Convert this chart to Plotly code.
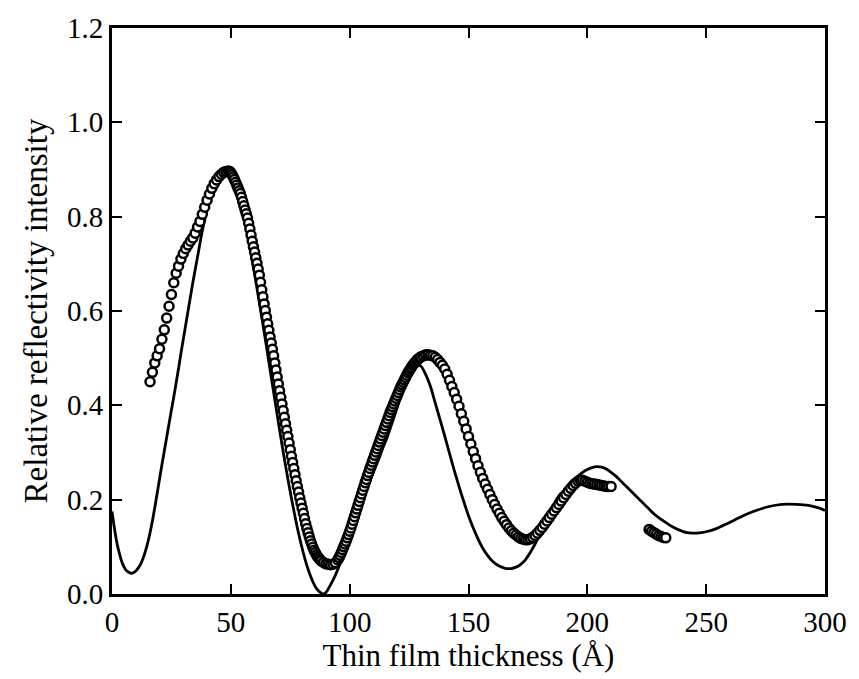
import plotly.graph_objects as go

# ---- calculated (solid line) ----
calc_x = [0, 1, 2, 3, 4, 5, 6, 7, 8, 9, 10, 11, 12, 13, 14, 15, 16, 17, 18, 19,
          20, 21, 22, 23, 24, 25, 26, 27, 28, 29, 30, 32, 34, 36, 38, 40, 42, 44,
          46, 48, 50, 52, 54, 56, 58, 60, 62, 64, 66, 68, 70, 72, 74, 76, 78, 80,
          82, 84, 86, 88, 89, 90, 92, 94, 96, 98, 100, 102, 104, 106, 108, 110,
          112, 114, 116, 118, 120, 122, 124, 126, 128, 130, 132, 134, 136, 138,
          140, 142, 144, 146, 148, 150, 152, 154, 156, 158, 160, 162, 164, 166,
          168, 170, 172, 174, 176, 178, 180, 182, 184, 186, 188, 190, 192, 194,
          196, 198, 200, 202, 204, 206, 208, 210, 212, 214, 216, 218, 220, 222,
          224, 226, 228, 230, 232, 234, 236, 238, 240, 242, 244, 246, 248, 250,
          254, 257, 262, 266, 271, 276, 282, 288, 293, 297, 300]
calc_y = [0.175, 0.14, 0.11, 0.088, 0.07, 0.058, 0.05, 0.046, 0.044, 0.045, 0.049,
          0.055, 0.063, 0.075, 0.09, 0.108, 0.13, 0.155, 0.183, 0.213, 0.244, 0.274,
          0.303, 0.332, 0.361, 0.39, 0.418, 0.448, 0.478, 0.51, 0.54, 0.6, 0.66,
          0.715, 0.77, 0.815, 0.85, 0.872, 0.884, 0.888, 0.88, 0.86, 0.83, 0.79,
          0.735, 0.678, 0.618, 0.556, 0.492, 0.428, 0.364, 0.302, 0.244, 0.19,
          0.14, 0.097, 0.06, 0.032, 0.012, 0.002, 0.0, 0.003, 0.02, 0.04, 0.065,
          0.095, 0.125, 0.155, 0.18, 0.205, 0.232, 0.258, 0.283, 0.31, 0.335,
          0.365, 0.395, 0.43, 0.46, 0.478, 0.487, 0.483, 0.465, 0.44, 0.405, 0.37,
          0.335, 0.298, 0.262, 0.228, 0.196, 0.166, 0.14, 0.117, 0.097, 0.082,
          0.07, 0.062, 0.057, 0.054, 0.054, 0.057, 0.063, 0.073, 0.088, 0.106,
          0.127, 0.148, 0.17, 0.19, 0.208, 0.218, 0.228, 0.24, 0.25, 0.258, 0.264,
          0.268, 0.27, 0.269, 0.265, 0.258, 0.25, 0.24, 0.23, 0.22, 0.21, 0.2,
          0.19, 0.18, 0.17, 0.162, 0.155, 0.148, 0.142, 0.137, 0.133, 0.13, 0.129,
          0.129, 0.13, 0.132, 0.138, 0.145, 0.157, 0.167, 0.177, 0.185, 0.19,
          0.19, 0.188, 0.183, 0.177]

# ---- measured (open circles) ----
meas_x = [16, 17, 18, 19, 20, 21, 22, 23, 24, 25, 26, 27, 28, 29, 30, 31, 32, 33,
          34, 35, 36, 37, 38, 39, 40, 41, 42, 43, 44, 45, 46, 47, 48, 49,
          49.5, 50, 50.5, 51, 51.5, 52, 52.5, 53, 53.5, 54, 54.5, 55, 55.5, 56,
          56.5, 57, 57.5, 58, 58.5, 59, 59.5, 60, 60.5, 61, 61.5, 62, 62.5, 63,
          63.5, 64, 64.5, 65, 65.5, 66, 66.5, 67, 67.5, 68, 68.5, 69, 69.5, 70,
          70.5, 71, 71.5, 72, 72.5, 73, 73.5, 74, 74.5, 75, 75.5, 76, 76.5, 77,
          77.5, 78, 78.5, 79, 79.5, 80, 80.5, 81, 81.5, 82, 82.5, 83, 83.5, 84,
          84.5, 85, 85.5, 86, 86.5, 87, 87.5, 88, 89, 90, 91, 92, 93, 94,
          95, 95.5, 96, 96.5, 97, 97.5, 98, 98.5, 99, 99.5, 100, 100.5, 101,
          101.5, 102, 102.5, 103, 103.5, 104, 104.5, 105, 105.5, 106, 106.5, 107,
          107.5, 108, 108.5, 109, 109.5, 110, 110.5, 111, 111.5, 112, 112.5, 113,
          113.5, 114, 114.5, 115, 115.5, 116, 116.5, 117, 117.5, 118, 118.5, 119,
          119.5, 120, 120.5, 121, 121.5, 122, 122.5, 123, 123.5, 124, 124.5, 125,
          125.5, 126, 126.5, 127, 127.5, 128, 128.5, 129, 129.5, 130, 131, 132,
          133, 134, 135, 136, 137, 138, 139, 140, 141, 142, 143, 144, 145, 146,
          147, 148, 149, 150, 151, 152, 153, 154, 155, 156, 157, 158, 159, 160,
          161, 162, 163, 164, 165, 166, 167, 168, 169, 170, 171, 172, 173, 174,
          175, 176, 177, 178, 179, 180, 181, 182, 183, 184, 185, 186, 187, 188,
          189, 190, 191, 192, 193, 194, 195, 196, 197, 198, 199, 200, 201, 202,
          203, 204, 205, 206, 207, 208, 209, 210,
          226, 227, 228, 229, 230, 231, 232, 233]
meas_y = [0.45, 0.47, 0.49, 0.505, 0.52, 0.54, 0.56, 0.585, 0.61, 0.635, 0.66,
          0.68, 0.695, 0.71, 0.722, 0.732, 0.74, 0.748, 0.755, 0.765, 0.778, 0.79,
          0.805, 0.82, 0.835, 0.848, 0.86, 0.87, 0.878, 0.885, 0.89, 0.894, 0.896,
          0.897,
          0.896, 0.893, 0.889, 0.884, 0.879, 0.873, 0.867, 0.861, 0.855, 0.849,
          0.841, 0.832, 0.823, 0.814, 0.806, 0.797, 0.786, 0.774, 0.761, 0.748,
          0.736, 0.725, 0.713, 0.701, 0.689, 0.676, 0.661, 0.645, 0.63, 0.615,
          0.601, 0.587, 0.573, 0.559, 0.545, 0.532, 0.519, 0.505, 0.49, 0.475,
          0.46, 0.445, 0.431, 0.417, 0.403, 0.389, 0.375, 0.361, 0.347, 0.334,
          0.32, 0.306, 0.292, 0.279, 0.266, 0.253, 0.24, 0.228, 0.216, 0.204,
          0.193, 0.182, 0.171, 0.16, 0.149, 0.139, 0.13, 0.121, 0.113, 0.106,
          0.099, 0.093, 0.088, 0.083, 0.079, 0.076, 0.073, 0.07, 0.067, 0.064,
          0.063, 0.062, 0.063, 0.066,
          0.072, 0.077, 0.082, 0.088, 0.094, 0.1, 0.106, 0.112, 0.119, 0.126,
          0.133, 0.14, 0.148, 0.156, 0.164, 0.172, 0.18, 0.188, 0.196, 0.204,
          0.212, 0.22, 0.228, 0.236, 0.243, 0.251, 0.258, 0.266, 0.273, 0.28,
          0.287, 0.294, 0.301, 0.308, 0.315, 0.322, 0.329, 0.336, 0.343, 0.35,
          0.357, 0.364, 0.371, 0.378, 0.385, 0.391, 0.397, 0.403, 0.409, 0.415,
          0.421, 0.427, 0.433, 0.439, 0.444, 0.449, 0.454, 0.459, 0.464, 0.469,
          0.473, 0.477, 0.481, 0.485, 0.488, 0.491, 0.494, 0.497, 0.499, 0.501,
          0.503, 0.505, 0.507, 0.507, 0.506, 0.505, 0.502, 0.497, 0.491, 0.485,
          0.477, 0.466, 0.453, 0.44, 0.427, 0.413, 0.398, 0.382, 0.366, 0.35,
          0.334, 0.318, 0.302, 0.287, 0.272, 0.258, 0.245, 0.233, 0.222, 0.211,
          0.2, 0.19, 0.18, 0.171, 0.162, 0.154, 0.147, 0.14, 0.134, 0.129, 0.125,
          0.121, 0.118, 0.116, 0.115, 0.115, 0.117, 0.12, 0.124, 0.129, 0.135,
          0.141, 0.148, 0.155, 0.162, 0.169, 0.176, 0.183, 0.19, 0.197, 0.204,
          0.211, 0.218, 0.224, 0.23, 0.235, 0.239, 0.241, 0.241, 0.239, 0.237,
          0.235, 0.234, 0.233, 0.232, 0.231, 0.23, 0.229, 0.228, 0.228, 0.228,
          0.137, 0.133, 0.13, 0.127, 0.124, 0.122, 0.12, 0.119]

x_ticks = [0, 50, 100, 150, 200, 250, 300]
y_ticks = [0.0, 0.2, 0.4, 0.6, 0.8, 1.0, 1.2]
x_title = "Thin film thickness (Å)"
y_title = "Relative reflectivity intensity"

FONT = "Liberation Serif, Times New Roman, serif"

fig = go.Figure()
fig.add_trace(go.Scatter(x=calc_x, y=calc_y, mode="lines", line_shape="spline",
                         line=dict(color="black", width=2.8), showlegend=False,
                         hoverinfo="skip"))
fig.add_trace(go.Scatter(x=meas_x, y=meas_y, mode="markers", showlegend=False,
                         marker=dict(symbol="circle", size=9, color="white",
                                     line=dict(color="black", width=2.5))))

axis_common = dict(showline=True, linecolor="black", linewidth=3, mirror="ticks",
                   ticks="inside", ticklen=10, tickwidth=2, tickcolor="black",
                   showgrid=False, zeroline=False,
                   tickfont=dict(family=FONT, size=29, color="black"))

fig.update_xaxes(range=[0, 300], tickvals=x_ticks, ticktext=[str(v) for v in x_ticks],
                 title=dict(text=x_title, font=dict(family=FONT, size=31, color="black"),
                            standoff=8),
                 **axis_common)
fig.update_yaxes(range=[0, 1.2], tickvals=y_ticks, ticktext=[f"{v:.1f}" for v in y_ticks],
                 title=dict(text=y_title, font=dict(family=FONT, size=33, color="black"),
                            standoff=10),
                 **axis_common)

fig.update_layout(width=859, height=679, paper_bgcolor="white", plot_bgcolor="white",
                  margin=dict(l=112, r=25, t=28, b=84), showlegend=False)

fig.write_html("out.html")
